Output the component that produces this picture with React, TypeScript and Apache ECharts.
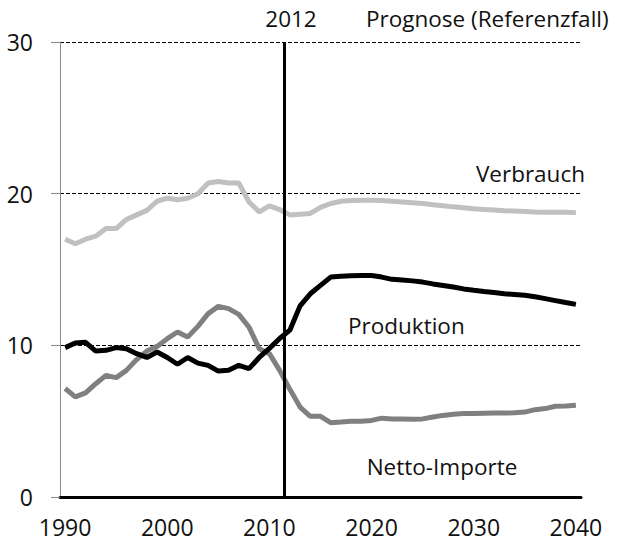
import React, { useEffect, useRef } from "react";
import * as echarts from "echarts";

const years: string[] = [];
for (let y = 1990; y <= 2040; y++) years.push(String(y));

const verbrauch = [
  17.0, 16.7, 17.0, 17.2, 17.7, 17.7, 18.3, 18.6, 18.9, 19.5,
  19.7, 19.6, 19.7, 20.0, 20.7, 20.8, 20.7, 20.7, 19.45, 18.8,
  19.2, 18.95, 18.6, 18.65, 18.7, 19.1, 19.35, 19.5, 19.55, 19.57,
  19.57, 19.55, 19.5, 19.45, 19.4, 19.35, 19.27, 19.2, 19.13, 19.07,
  19.0, 18.96, 18.92, 18.88, 18.85, 18.82, 18.79, 18.78, 18.78, 18.77,
  18.75,
];

const produktion = [
  9.85, 10.15, 10.2, 9.62, 9.67, 9.85, 9.78, 9.45, 9.2, 9.56,
  9.2, 8.75, 9.2, 8.83, 8.68, 8.3, 8.35, 8.68, 8.46, 9.2,
  9.8, 10.45, 11.0, 12.6, 13.4, 13.95, 14.5, 14.55, 14.58, 14.6,
  14.6, 14.5, 14.35, 14.3, 14.25, 14.17, 14.05, 13.95, 13.85, 13.72,
  13.63, 13.55, 13.48, 13.4, 13.35, 13.3, 13.2, 13.08, 12.95, 12.82,
  12.7,
];

const importe = [
  7.15, 6.6, 6.86, 7.47, 8.02, 7.87, 8.35, 9.06, 9.62, 9.93,
  10.44, 10.88, 10.55, 11.25, 12.09, 12.57, 12.42, 12.04, 11.2, 9.78,
  9.45, 8.35, 7.1, 5.93, 5.32, 5.32, 4.9, 4.94, 4.99, 4.99,
  5.05, 5.2, 5.15, 5.15, 5.12, 5.15, 5.27, 5.38, 5.45, 5.5,
  5.5, 5.52, 5.54, 5.54, 5.55, 5.6, 5.76, 5.83, 5.98, 6.0,
  6.05,
];

const forecastBoundary = 2011.5;
const forecastLabel = "2012";
const forecastTitle = "Prognose (Referenzfall)";
const labelVerbrauch = "Verbrauch";
const labelProduktion = "Produktion";
const labelImporte = "Netto-Importe";

const FONT = "'Open Sans', 'Noto Sans', sans-serif";

export default function App() {
  const ref = useRef<HTMLDivElement>(null);
  useEffect(() => {
    document.body.style.margin = "0";
    if (!ref.current) return;
    const chart = echarts.init(ref.current, undefined, { renderer: "svg" });
    const textStyle = { fontFamily: FONT, fontSize: 22.5, fill: "#111" };
    chart.setOption({
      animation: false,
      backgroundColor: "#fff",
      grid: { left: 60, right: 39, top: 42, bottom: 48, containLabel: false },
      xAxis: [
        {
          type: "category",
          data: years,
          boundaryGap: true,
          axisLine: { show: true, lineStyle: { color: "#000", width: 3 } },
          axisTick: { show: false },
          axisLabel: {
            interval: 9,
            margin: 18,
            color: "#111",
            fontFamily: FONT,
            fontSize: 23,
          },
          splitLine: { show: false },
        },
        {
          type: "value",
          min: 1989.5,
          max: 2040.5,
          show: false,
        },
      ],
      yAxis: {
        type: "value",
        min: 0,
        max: 30,
        interval: 10,
        axisLine: { show: true, lineStyle: { color: "#888", width: 1 } },
        axisTick: { show: true, length: 9, lineStyle: { color: "#888" } },
        axisLabel: {
          margin: 27,
          color: "#111",
          fontFamily: FONT,
          fontSize: 23,
        },
        splitLine: {
          show: true,
          lineStyle: { color: "#000", width: 1, type: [4, 2] },
        },
      },
      series: [
        {
          name: labelVerbrauch,
          type: "line",
          data: verbrauch,
          symbol: "none",
          lineStyle: { color: "#c0c0c0", width: 5 },
          z: 3,
        },
        {
          name: labelImporte,
          type: "line",
          data: importe,
          symbol: "none",
          lineStyle: { color: "#808080", width: 5 },
          z: 3,
        },
        {
          name: labelProduktion,
          type: "line",
          data: produktion,
          symbol: "none",
          lineStyle: { color: "#000", width: 5 },
          z: 4,
        },
        {
          type: "line",
          xAxisIndex: 1,
          data: [],
          markLine: {
            silent: true,
            symbol: "none",
            label: { show: false },
            lineStyle: { color: "#000", width: 3, type: "solid" },
            data: [{ xAxis: forecastBoundary }],
          },
          z: 5,
        },
      ],
      graphic: [
        {
          type: "text",
          x: 291,
          y: 18,
          style: { ...textStyle, text: forecastLabel, align: "center", verticalAlign: "middle" },
        },
        {
          type: "text",
          x: 366,
          y: 18,
          style: { ...textStyle, text: forecastTitle, align: "left", verticalAlign: "middle" },
        },
        {
          type: "text",
          x: 585,
          y: 173,
          style: { ...textStyle, text: labelVerbrauch, align: "right", verticalAlign: "middle" },
        },
        {
          type: "text",
          x: 348,
          y: 325,
          style: { ...textStyle, text: labelProduktion, align: "left", verticalAlign: "middle" },
        },
        {
          type: "text",
          x: 442,
          y: 466,
          style: { ...textStyle, text: labelImporte, align: "center", verticalAlign: "middle" },
        },
      ],
    });
    return () => chart.dispose();
  }, []);
  return <div ref={ref} style={{ width: 620, height: 545 }} />;
}
